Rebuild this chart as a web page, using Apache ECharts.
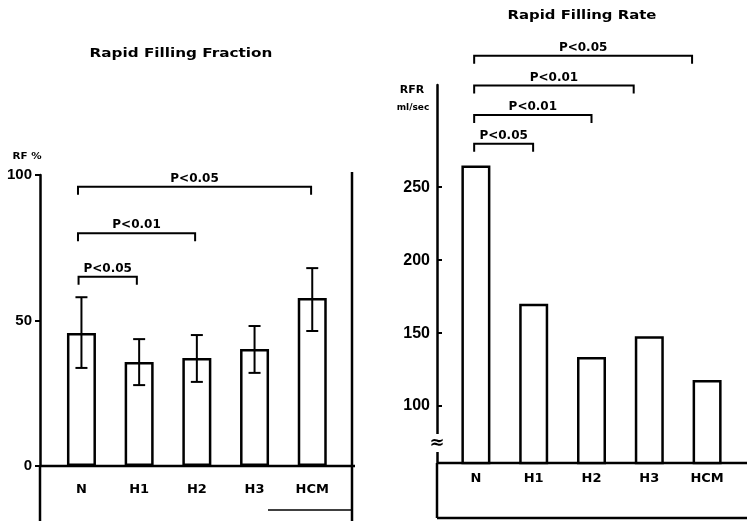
<!DOCTYPE html>
<html>
<head>
<meta charset="utf-8">
<script src="https://cdn.jsdelivr.net/npm/echarts@6/dist/echarts.min.js"></script>
<style>html,body{margin:0;padding:0;background:#fff}#c{width:747px;height:521px}</style>
</head>
<body>
<div id="c"></div>
<script>
// ---- data ----
const categories = ['N', 'H1', 'H2', 'H3', 'HCM'];
const rfValues = [45.7, 35.7, 37.1, 40.2, 57.7];
const rfLow = [33.7, 27.8, 28.9, 32.0, 46.4];
const rfHigh = [58.0, 43.6, 45.0, 48.1, 68.0];
const rfTicks = [0, 50, 100];
const rfBracketFrom = [-0.06, -0.06, -0.05];
const rfBracketTo = [3.98, 1.97, 0.96];
const rfBracketLevel = [96, 80, 65];
const rfBracketLabel = ['P<0.05', 'P<0.01', 'P<0.05'];

const rfrValues = [264.8, 170.2, 133.7, 147.9, 117.8];
const rfrTicks = [100, 150, 200, 250];
const rfrBracketFrom = [-0.03, -0.03, -0.03, -0.03];
const rfrBracketTo = [3.74, 2.73, 2.0, 0.99];
const rfrBracketLevel = [340, 319.6, 299.5, 279.7];
const rfrBracketLabel = ['P<0.05', 'P<0.01', 'P<0.01', 'P<0.05'];

// ---- layout ----
const FONT = 'DejaVu Sans';
const NUMFONT = 'Liberation Sans';
const LW = 2.5;

const chart = echarts.init(document.getElementById('c'), null, {renderer: 'canvas'});

function bracketSeries(xi, yi, from, to, level, labels) {
  return {
    type: 'custom', xAxisIndex: xi, yAxisIndex: yi, clip: false, silent: true,
    data: from.map((f, i) => [f, to[i], level[i]]),
    renderItem: function (params, api) {
      const a = api.coord([api.value(0), api.value(2)]);
      const b = api.coord([api.value(1), api.value(2)]);
      const drop = 8;
      return {
        type: 'group',
        children: [
          {type: 'polyline', shape: {points: [[a[0], a[1] + drop], [a[0], a[1]], [b[0], b[1]], [b[0], b[1] + drop]]},
           style: {stroke: '#000', lineWidth: 2, fill: null}},
          {type: 'text', x: (a[0] + b[0]) / 2, y: a[1] - 8,
           style: {text: labels[params.dataIndex], fill: '#000', font: 'bold 12px "' + FONT + '"', align: 'center', verticalAlign: 'middle'}}
        ]
      };
    }
  };
}

const errSeries = {
  type: 'custom', xAxisIndex: 1, yAxisIndex: 0, clip: false, silent: true, z: 5,
  data: rfLow.map((l, i) => [i, l, rfHigh[i]]),
  renderItem: function (params, api) {
    const lo = api.coord([api.value(0), api.value(1)]);
    const hi = api.coord([api.value(0), api.value(2)]);
    const hw = 6;
    const st = {stroke: '#000', lineWidth: 2};
    return {
      type: 'group',
      children: [
        {type: 'line', shape: {x1: lo[0], y1: lo[1], x2: hi[0], y2: hi[1]}, style: st},
        {type: 'line', shape: {x1: lo[0] - hw, y1: lo[1], x2: lo[0] + hw, y2: lo[1]}, style: st},
        {type: 'line', shape: {x1: hi[0] - hw, y1: hi[1], x2: hi[0] + hw, y2: hi[1]}, style: st}
      ]
    };
  }
};

const catLabel = (m) => ({margin: m, fontSize: 13, fontWeight: 'bold', color: '#000', fontFamily: FONT, interval: 0});

function line(x1, y1, x2, y2, w) {
  return {type: 'line', shape: {x1, y1, x2, y2}, style: {stroke: '#000', lineWidth: w || LW}, silent: true};
}
function txt(x, y, s, font, sx) {
  return {type: 'text', x, y, scaleX: sx || 1, style: {text: s, fill: '#000', font, align: 'center', verticalAlign: 'middle'}, silent: true};
}

const option = {
  animation: false,
  backgroundColor: '#fff',
  grid: [
    {left: 52.6, right: 747 - 341.1, top: 175, bottom: 521 - 466},
    {left: 447, right: 747 - 736, top: 85, bottom: 521 - 463}
  ],
  xAxis: [
    {gridIndex: 0, type: 'category', data: categories, axisLine: {show: false}, axisTick: {show: false}, axisLabel: catLabel(17)},
    {gridIndex: 0, type: 'value', min: -0.5, max: 4.5, show: false},
    {gridIndex: 1, type: 'category', data: categories, axisLine: {show: false}, axisTick: {show: false}, axisLabel: catLabel(9)},
    {gridIndex: 1, type: 'value', min: -0.5, max: 4.5, show: false}
  ],
  yAxis: [
    {gridIndex: 0, type: 'value', min: 0, max: 100, interval: 50, offset: 12.6,
     axisLine: {show: true, onZero: false, lineStyle: {color: '#000', width: LW}},
     axisTick: {show: true, length: 5, lineStyle: {color: '#000', width: 2}},
     splitLine: {show: false},
     axisLabel: {margin: 8, fontSize: 15, fontWeight: 'bold', color: '#000', fontFamily: NUMFONT, customValues: rfTicks}},
    {gridIndex: 1, type: 'value', min: 61, max: 320, offset: 10,
     axisLine: {show: true, onZero: false, lineStyle: {color: '#000', width: LW}},
     axisTick: {show: true, inside: true, length: 5, lineStyle: {color: '#000', width: 2}, customValues: rfrTicks},
     splitLine: {show: false},
     axisLabel: {margin: 7, fontSize: 16, fontWeight: 'bold', color: '#000', fontFamily: NUMFONT, customValues: rfrTicks}}
  ],
  series: [
    {type: 'bar', xAxisIndex: 0, yAxisIndex: 0, data: rfValues, barWidth: 29, silent: true,
     itemStyle: {color: '#fff', borderColor: '#000', borderWidth: LW}},
    errSeries,
    bracketSeries(1, 0, rfBracketFrom, rfBracketTo, rfBracketLevel, rfBracketLabel),
    {type: 'bar', xAxisIndex: 2, yAxisIndex: 1, data: rfrValues, barWidth: 29, silent: true,
     itemStyle: {color: '#fff', borderColor: '#000', borderWidth: LW}},
    bracketSeries(3, 1, rfrBracketFrom, rfrBracketTo, rfrBracketLevel, rfrBracketLabel)
  ],
  graphic: [
    // left frame
    line(40, 466, 355, 466),
    line(40, 466, 40, 521),
    line(352, 172, 352, 521),
    line(268, 510, 353, 510, 1.5),
    // right frame
    line(437, 463, 747, 463),
    line(437, 463, 437, 518),
    line(437, 518, 747, 518),
    // texts
    txt(181, 54, 'Rapid Filling Fraction', 'bold 12px "' + FONT + '"', 1.27),
    txt(582, 16, 'Rapid Filling Rate', 'bold 12px "' + FONT + '"', 1.24),
    txt(27, 157, 'RF %', 'bold 9px "' + FONT + '"', 1.15),
    txt(412, 90, 'RFR', 'bold 10px "' + FONT + '"', 1.1),
    txt(413, 108, 'ml/sec', 'bold 9px "' + FONT + '"'),
    {type: 'text', x: 437, y: 443, z: 10, style: {text: '≈', fill: '#000', font: 'bold 18px "' + FONT + '"', align: 'center', verticalAlign: 'middle', backgroundColor: '#fff'}, silent: true}
  ]
};
chart.setOption(option);
</script>
</body>
</html>
